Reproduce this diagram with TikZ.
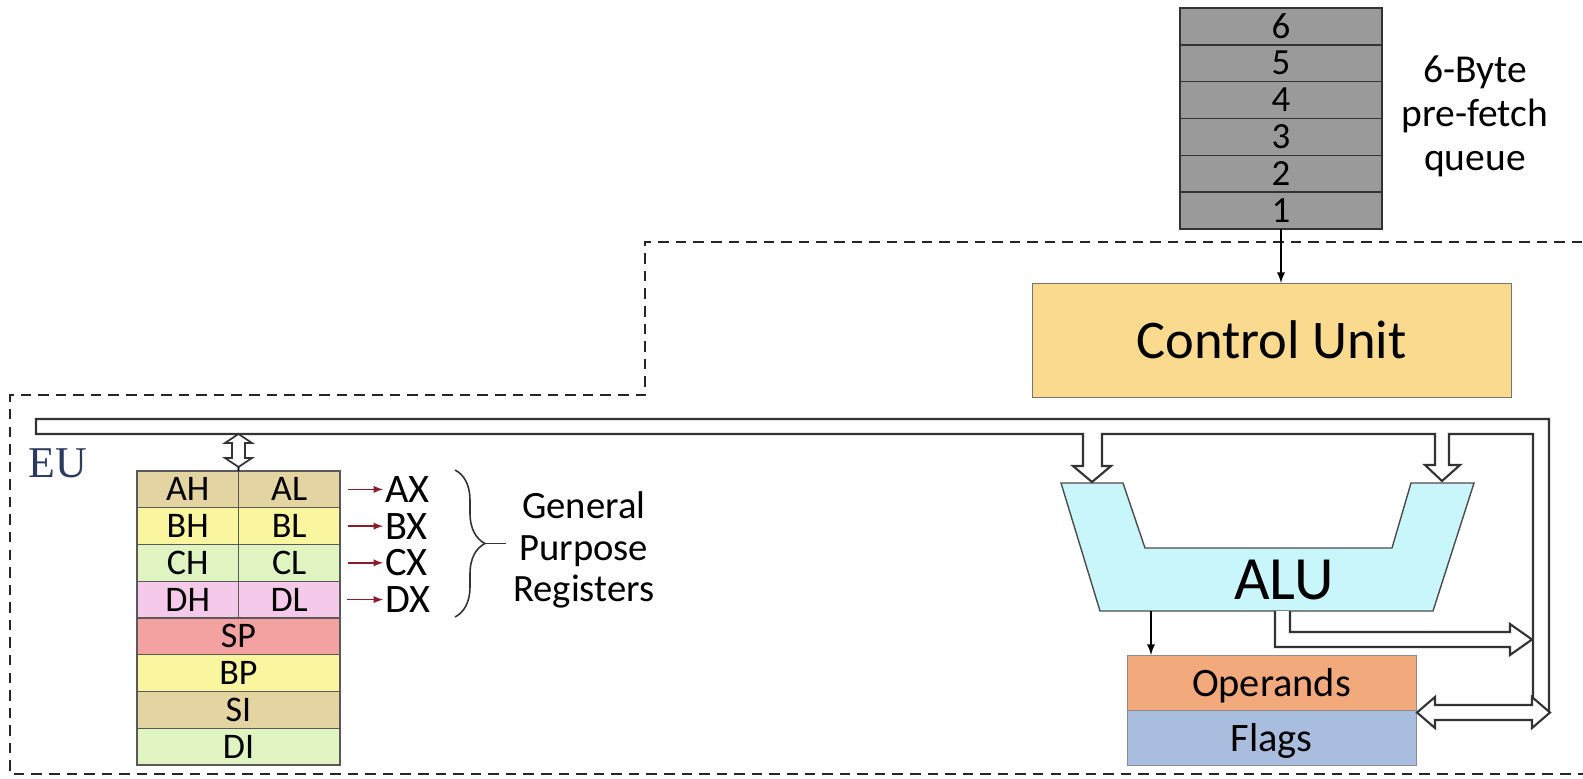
\documentclass[tikz,border=0pt]{standalone}
\usepackage{fontspec}
\setmainfont{Carlito}
\newfontfamily\eufont{Liberation Serif}
\usetikzlibrary{positioning,calc,decorations.pathreplacing}
\definecolor{qgray}{HTML}{9A9A9A}
\definecolor{cuyellow}{HTML}{F9DA8E}
\definecolor{alucyan}{HTML}{C8F6FA}
\definecolor{oporange}{HTML}{F2AA7C}
\definecolor{flagblue}{HTML}{A9BDDF}
\definecolor{regtan}{HTML}{E3D4A2}
\definecolor{regyellow}{HTML}{FAF6A0}
\definecolor{reggreen}{HTML}{E0F4C2}
\definecolor{regpink}{HTML}{F5C9EA}
\definecolor{regred}{HTML}{F3A1A1}
\definecolor{arrowred}{HTML}{8C1C2C}
\definecolor{eublue}{HTML}{2B3A5E}
\newcommand{\fsz}[1]{\fontsize{#1}{#1}\selectfont}
\tikzset{
  qcell/.style={draw=black!80,line width=0.9pt,fill=qgray,minimum width=4.04cm,minimum height=0.7367cm,
    inner sep=0pt,outer sep=0pt,font=\fsz{21}},
  reg/.style={draw=black!65,line width=0.7pt,minimum width=4.06cm,minimum height=0.735cm,
    inner sep=0pt,outer sep=0pt,font=\fsz{20.5}},
  halfreg/.style={reg,minimum width=2.03cm},
  gpr/.style={inner sep=0pt,font=\fsz{23}},
  unitbox/.style={draw=black!55,minimum width=9.58cm,minimum height=2.28cm,
    inner sep=0pt,outer sep=0pt},
  flagbox/.style={draw=black!45,minimum width=5.78cm,minimum height=1.1cm,
    inner sep=0pt,outer sep=0pt,text depth=0pt,font=\fsz{23}},
  hollow/.style={draw=black!80,line width=1.2pt,fill=white,line join=miter},
  thinarrow/.style={-latex,line width=1.1pt},
  redarrow/.style={-latex,line width=0.9pt,draw=arrowred,shorten >=1pt},
  eubound/.style={dash pattern=on 6pt off 4pt,line width=1.3pt,draw=black!85}
}

\begin{document}
\begin{tikzpicture}[x=0.02cm,y=-0.02cm]
  \useasboundingbox (0,0) rectangle (1583,778);
  % execution unit boundary
  \draw[eubound] (1600,242) -- (645,242) -- (645,395) -- (10,395) -- (10,774) -- (1600,774);
  \node (eu) [anchor=west,inner sep=0pt,text=eublue,font=\eufont\fsz{25}] at (28,463) {EU};

  % queue
  \node (q6) [qcell,anchor=north west] at (1180,8) {6};
  \node (q5) [qcell,below=0pt of q6] {5};
  \node (q4) [qcell,below=0pt of q5] {4};
  \node (q3) [qcell,below=0pt of q4] {3};
  \node (q2) [qcell,below=0pt of q3] {2};
  \node (q1) [qcell,below=0pt of q2] {1};
  \node (qtext) [align=center,font=\fontsize{22.5}{25}\selectfont] at (1475,116)
    {6-Byte\\pre-fetch\\queue};

  \node (cu) [unitbox,fill=cuyellow,font=\fsz{31}] at (1271.5,340) {Control Unit};
  \draw[thinarrow] (q1.south) -- (q1.south |- cu.north);

  % ALU
  \draw[draw=black!70,fill=alucyan,line width=0.8pt] (1061,483) -- (1123,483) -- (1145,548)
    -- (1392,548) -- (1411,483) -- (1474,483) -- (1433,611) -- (1100,611) -- cycle;
  \node (alu) [font=\fsz{35}] at (1284,580) {ALU};
  \node (ops) [flagbox,fill=oporange] at (1271.5,682.5) {Operands};
  \node (flags) [flagbox,fill=flagblue,below=0pt of ops] {Flags};
  \coordinate (aluout) at (1151,611);
  \draw[thinarrow] (aluout) -- (aluout |- ops.north);

  % registers
  \node (ah) [halfreg,fill=regtan,anchor=north west] at (137,471) {AH};
  \node (al) [halfreg,fill=regtan,right=0pt of ah] {AL};
  \node (bh) [halfreg,fill=regyellow,below=0pt of ah] {BH};
  \node (bl) [halfreg,fill=regyellow,right=0pt of bh] {BL};
  \node (ch) [halfreg,fill=reggreen,below=0pt of bh] {CH};
  \node (cl) [halfreg,fill=reggreen,right=0pt of ch] {CL};
  \node (dh) [halfreg,fill=regpink,below=0pt of ch] {DH};
  \node (dl) [halfreg,fill=regpink,right=0pt of dh] {DL};
  \node (sp) [reg,fill=regred,anchor=north west] at (dh.south west) {SP};
  \node (bp) [reg,fill=regyellow,below=0pt of sp] {BP};
  \node (si) [reg,fill=regtan,below=0pt of bp] {SI};
  \node (di) [reg,fill=reggreen,below=0pt of si] {DI};

  \node (ax) [gpr,right=0.9cm of al] {AX};
  \node (bx) [gpr,right=0.9cm of bl] {BX};
  \node (cx) [gpr,right=0.9cm of cl] {CX};
  \node (dx) [gpr,right=0.9cm of dl] {DX};
  \draw[redarrow] ([xshift=0.16cm]al.east) -- (ax.west);
  \draw[redarrow] ([xshift=0.16cm]bl.east) -- (bx.west);
  \draw[redarrow] ([xshift=0.16cm]cl.east) -- (cx.west);
  \draw[redarrow] ([xshift=0.14cm]dl.east) -- (dx.west);

  \draw[decorate,decoration={brace,amplitude=0.6cm},line width=0.9pt,black!80] (455,470) -- (455,617);
  \coordinate (bt) at (485,543.5);
  \node (gp) [align=center,inner sep=0pt,anchor=west,font=\fontsize{22}{23.8}\selectfont]
    at (513,550) {General\\Purpose\\Registers};
  \draw[line width=0.9pt,black!80,shorten >=4pt] (bt) -- (bt -| gp.west);

  % internal bus
  \draw[hollow] (36,419) -- (1549,419) -- (1549,712) -- (1533,712) -- (1533,434)
    -- (1449,434) -- (1449,465) -- (1460,465) -- (1442,481) -- (1425,465) -- (1435,465)
    -- (1435,434) -- (1102,434) -- (1102,466) -- (1111,466) -- (1092,482) -- (1073,466)
    -- (1083,466) -- (1083,434) -- (36,434) -- cycle;
  \draw[hollow] (1417,712.5) -- (1435,697) -- (1435,705) -- (1532,705) -- (1532,697)
    -- (1550,712.5) -- (1532,728) -- (1532,720) -- (1435,720) -- (1435,728) -- cycle;
  \draw[hollow] (1275,611) -- (1275,647) -- (1510,647) -- (1510,655) -- (1532,639.5)
    -- (1510,624) -- (1510,632) -- (1290,632) -- (1290,611);
  \draw[hollow,line width=1pt] (238.5,434) -- (252,443) -- (245,443) -- (245,458) -- (252,458)
    -- (238.5,467) -- (225,458) -- (232,458) -- (232,443) -- (225,443) -- cycle;
  \draw[line width=0.9pt] (238.5,467) -- (ah.north east);
\end{tikzpicture}
\end{document}
